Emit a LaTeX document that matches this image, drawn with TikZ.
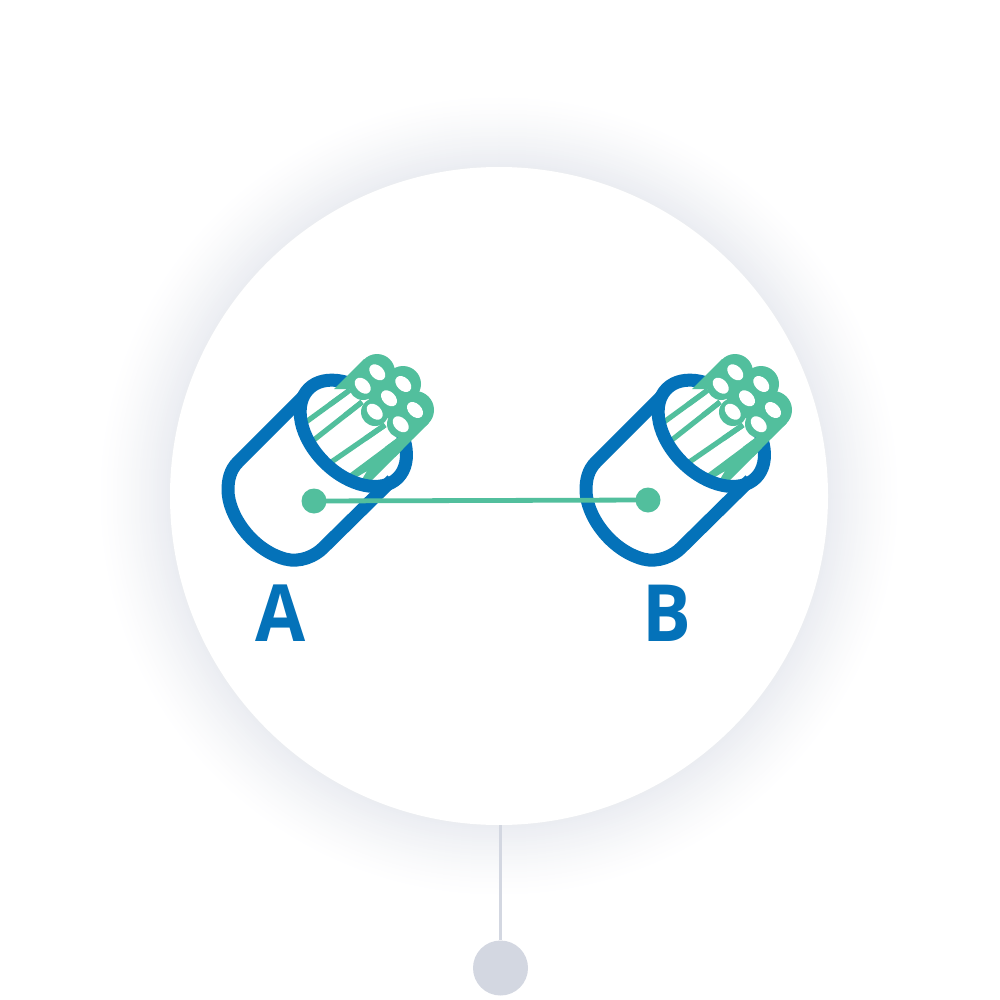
\documentclass[tikz,border=0pt]{standalone}
\usepackage{fontspec}
\setmainfont{Open Sans}
\definecolor{cblue}{HTML}{0472B9}
\definecolor{cgreen}{HTML}{52BF9D}
\definecolor{cgrey}{HTML}{D3D7E1}
\definecolor{cshadow}{HTML}{EAECF1}
\tikzset{
  bluestroke/.style={draw=cblue,line width=6.5pt,line join=round},
  band/.style={draw=cgreen,line width=2.6pt},
  dotnode/.style={circle,fill=cgreen,inner sep=0pt,minimum size=12.5pt},
  labeltext/.style={text=cblue,font=\fontsize{39.5pt}{39.5pt}\selectfont\bfseries,inner sep=0pt},
  cable/.pic={
    % fibre tails, under the sheath
    \draw[band] (306,422) -- (350,390);
    \draw[band] (310,443) -- (362,402);
    \draw[band] (327,465) -- (385,425);
    \fill[cgreen] (404,433) -- (349,474) -- (352,480) -- (367,471) -- (361,481)
      -- (369,483) -- (402,450) -- cycle;
    % sheath
    \draw[bluestroke] (303,397) -- (238,462)
      .. controls (230,470) and (228,480) .. (228,490)
      .. controls (228,515) and (252,550) .. (285,559)
      .. controls (300,563) and (315,556) .. (323,548) -- (392,480);
    \draw[bluestroke,shift={(353.3,433.3)},rotate=-45] (0,0) ellipse (63 and 41);
    % white fibres hide the far side of the ring
    \fill[white] (345,393) -- (355,385) -- (410,425) -- (404,440) -- (395,428)
      -- (375,411) -- (360,398) -- cycle;
    % fibre heads, over the sheath
    \draw[band] (330,404.5) -- (350,390);
    \draw[band] (345,415.4) -- (362,402);
    \draw[band] (365,438.8) -- (385,425);
    \fill[cgreen] (385,447) -- (404,433) -- (428.4,423.4) -- (402,450) -- (395,457) -- cycle;
    % bundle head
    \fill[cgreen] (334,389) -- (364,359) -- (377,372) -- (403,384) -- (415,410)
      -- (428.4,423.4) -- (413,438.5) -- (401,424) -- (375,412) -- (363,386) -- (350,389) -- cycle;
    \foreach \cx/\cy/\cr in {377/372/18,403/384/18,415/410/19,389/398/14,363/386/14,375/412/14,401/424/14}
      \fill[cgreen] (\cx,\cy) circle (\cr);
    \foreach \hx/\hy in {377.3/372.3,362.7/385.7,403.3/384,389/398.3,374.7/411.7,415/410,400.7/424.3}
      \fill[white,shift={(\hx,\hy)},rotate=-45] (0,0) ellipse (9.3 and 6.4);
  }
}
\begin{document}
\begin{tikzpicture}[x=0.5pt,y=-0.5pt]
\useasboundingbox (0,0) rectangle (1000,1000);
\fill[white] (0,0) rectangle (1000,1000);
% soft halo
\foreach \r in {402,400,...,328}{
  \pgfmathsetmacro\t{100*((402-\r)/74)^1.3}
  \fill[cshadow!\t!white] (499,496) circle (\r);
}
\fill[white] (499,496) circle (329);
% stem and knob
\node[circle,fill=cgrey,inner sep=0pt,minimum size=27.5pt] (knob) at (500.5,968) {};
\coordinate (stemtop) at (500.5,825);
\draw[cgrey,line width=1.9pt] (stemtop) -- (knob);
% cables
\pic at (0,0) {cable};
\pic at (358,0) {cable};
% link
\node[dotnode] (dotA) at (314,501) {};
\node[dotnode] (dotB) at (648,500) {};
\draw[cgreen,line width=2.4pt,shorten <=-2pt,shorten >=-2pt] (dotA) -- (dotB);
% labels
\node[labeltext] (labA) at (280.3,613.5) {\scalebox{0.92}[1]{A}};
\node[labeltext] (labB) at (666.5,613.5) {\scalebox{0.92}[1]{B}};
\end{tikzpicture}
\end{document}
